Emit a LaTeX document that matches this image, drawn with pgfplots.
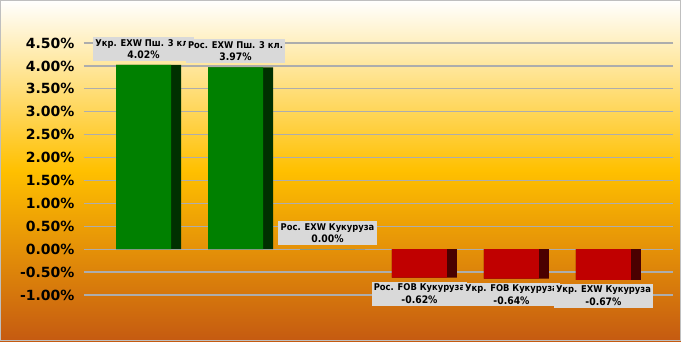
\documentclass[border=0pt]{standalone}
\usepackage{pgfplots}
\pgfplotsset{compat=1.18}
\usepackage{fontspec}
\setmainfont{DejaVu Sans}
\newfontfamily\lblfont[FakeStretch=0.9]{DejaVu Sans}
\newcommand{\vl}[1]{{\fontsize{10.3}{12.5}\selectfont #1}}
\definecolor{bgtop}{HTML}{FFFFFF}
\definecolor{bgmid}{HTML}{FFC000}
\definecolor{bgbot}{HTML}{C55A11}
\definecolor{bordergray}{HTML}{BFBFBF}
\definecolor{gridgray}{HTML}{ADADAD}
\definecolor{gfront}{HTML}{008000}
\definecolor{gside}{HTML}{003000}
\definecolor{rfront}{HTML}{C00000}
\definecolor{rside}{HTML}{4A0000}
\definecolor{lblgray}{HTML}{D9D9D9}
\pgfdeclareverticalshading{bgshade}{100bp}{color(0bp)=(bgbot); color(25bp)=(bgbot); color(50bp)=(bgmid); color(75bp)=(bgtop); color(100bp)=(bgtop)}
\begin{document}
\begin{tikzpicture}
\shade[shading=bgshade] (-88pt,-46pt) rectangle (593pt,295pt);
\draw[draw=bordergray, line width=1pt] (-87.5pt,-45.5pt) rectangle (592.5pt,294.5pt);
\begin{axis}[
  at={(0pt,0pt)}, anchor=south west,
  scale only axis, width=581pt, height=252pt,
  xmin=-0.658, xmax=5.658, ymin=-1, ymax=4.5,
  axis line style={draw=none},
  xtick=\empty,
  ytick={-1,-0.5,0,0.5,1,1.5,2,2.5,3,3.5,4,4.5},
  ymajorgrids, grid style={draw=gridgray, line width=1.2pt},
  tick align=outside, major tick length=4pt,
  ytick style={draw=gridgray, line width=1.2pt},
  /pgf/number format/assume math mode=true,
  yticklabel={\pgfmathprintnumber[fixed,fixed zerofill,precision=2]{\tick}\%},
  yticklabel style={font=\fontsize{14}{15}\selectfont\bfseries, text=black, xshift=-6pt},
  clip=false,
  every node near coord/.append style={fill=lblgray, align=center, inner sep=2.2pt, outer sep=4pt, xshift=-5pt, font=\lblfont\fontsize{9.3}{12.5}\selectfont\bfseries, text=black},
]
\addplot[ybar, bar width=65pt, bar shift=0pt, fill=gside, draw=none] coordinates {(0,4.02) (1,3.97) (2,0)};
\addplot[ybar, bar width=65pt, bar shift=0pt, fill=rside, draw=none] coordinates {(3,-0.62) (4,-0.64) (5,-0.67)};
\addplot[ybar, bar width=55pt, bar shift=-5pt, fill=gfront, draw=none, nodes near coords, nodes near coords style={anchor=south}, point meta=explicit symbolic] coordinates {
 (0,4.02) [{Укр. EXW Пш. 3 кл.\\\vl{4.02\%}}]
 (1,3.97) [{Рос. EXW Пш. 3 кл.\\\vl{3.97\%}}]
 (2,0) [{Рос. EXW Кукуруза\\\vl{0.00\%}}]
};
\addplot[ybar, bar width=55pt, bar shift=-5pt, fill=rfront, draw=none, nodes near coords, nodes near coords style={anchor=north}, point meta=explicit symbolic] coordinates {
 (3,-0.62) [{Рос. FOB Кукуруза\\\vl{-0.62\%}}]
 (4,-0.64) [{Укр. FOB Кукуруза\\\vl{-0.64\%}}]
 (5,-0.67) [{Укр. EXW Кукуруза\\\vl{-0.67\%}}]
};
\end{axis}
\end{tikzpicture}
\end{document}
